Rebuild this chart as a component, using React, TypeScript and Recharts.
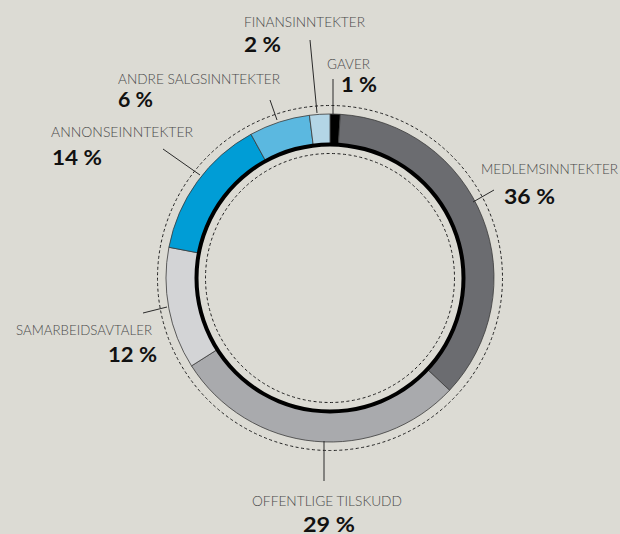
import React from 'react';
import { PieChart, Pie, Cell } from 'recharts';

const categories = [
  'GAVER',
  'MEDLEMSINNTEKTER',
  'OFFENTLIGE TILSKUDD',
  'SAMARBEIDSAVTALER',
  'ANNONSEINNTEKTER',
  'ANDRE SALGSINNTEKTER',
  'FINANSINNTEKTER',
];
const shares = [1, 36, 29, 12, 14, 6, 2];
const percentLabels = ['1 %', '36 %', '29 %', '12 %', '14 %', '6 %', '2 %'];
const colors = ['#000000', '#6b6c70', '#a9aaad', '#d3d4d6', '#009dd6', '#5bb8e0', '#b3d5e6'];

const data = categories.map((name, i) => ({ name, value: shares[i], pct: percentLabels[i] }));
const ringData = [{ name: 'ring', value: 1 }];

// label layout, offsets relative to the pie centre: leader [x1,y1,x2,y2], name [x, baseline, width], pct [x, baseline, width]
const leaderLines = [
  [3, -163, 3, -199],
  [143, -76, 164, -88],
  [-6, 163, -6, 203],
  [-163, 29, -187, 35],
  [-130, -103, -167, -129],
  [-53, -158, -60, -178],
  [-13, -165, -20, -238],
];
const namePos = [
  [-3, -209, 43],
  [151, -104, 137],
  [-78, 228, 150],
  [-314, 57, 136],
  [-279, 141 * -1, 142],
  [-212, -194, 162],
  [-86, -251, 121],
];
const pctPos = [
  [11, -186, 36],
  [174, -74, 51],
  [-27, 254, 52],
  [-222, 84, 49],
  [-278, -113, 50],
  [-212, -171, 35],
  [-86, -226, 37],
];

const BG = '#dcdbd4';

const renderLabel = (props: any) => {
  const cx = Number(props.cx);
  const cy = Number(props.cy);
  const i = props.index;
  const l = leaderLines[i];
  const n = namePos[i];
  const p = pctPos[i];
  return (
    <g key={`lbl-${i}`}>
      <line x1={cx + l[0]} y1={cy + l[1]} x2={cx + l[2]} y2={cy + l[3]} stroke="#2a2a2a" strokeWidth={1} />
      <text
        x={cx + n[0]}
        y={cy + n[1]}
        textLength={n[2]}
        lengthAdjust="spacingAndGlyphs"
        fontFamily="Lato, 'Open Sans', sans-serif"
        fontWeight={300}
        fontSize={14.5}
        fill="#4a4a4a"
      >
        {categories[i]}
      </text>
      <text
        x={cx + p[0]}
        y={cy + p[1]}
        textLength={p[2]}
        lengthAdjust="spacingAndGlyphs"
        fontFamily="Lato, 'Open Sans', sans-serif"
        fontWeight={700}
        fontSize={21}
        fill="#111111"
      >
        {percentLabels[i]}
      </text>
    </g>
  );
};

const renderCircles = (props: any) => {
  const cx = Number(props.cx);
  const cy = Number(props.cy);
  return (
    <g key="dashed-circles">
      <circle cx={cx} cy={cy} r={172.5} fill="none" stroke="#222" strokeWidth={1} strokeDasharray="3 2.5" />
      <circle cx={cx} cy={cy} r={124.5} fill="none" stroke="#222" strokeWidth={1} strokeDasharray="3 2.5" />
    </g>
  );
};

export default function App() {
  return (
    <div style={{ position: 'fixed', left: 0, top: 0, width: 620, height: 534, background: BG }}>
      <PieChart width={620} height={534} margin={{ top: 0, right: 0, bottom: 0, left: 0 }}>
        <Pie
          data={data}
          dataKey="value"
          nameKey="name"
          cx={330}
          cy={278}
          innerRadius={134}
          outerRadius={164}
          startAngle={90}
          endAngle={-270}
          stroke="#3a3a3a"
          strokeWidth={0.8}
          isAnimationActive={false}
          label={renderLabel}
          labelLine={false}
        >
          {data.map((d, i) => (
            <Cell key={d.name} fill={colors[i]} />
          ))}
        </Pie>
        <Pie
          data={ringData}
          dataKey="value"
          cx={330}
          cy={278}
          innerRadius={131.5}
          outerRadius={135.5}
          startAngle={90}
          endAngle={-270}
          fill="#000000"
          stroke="none"
          isAnimationActive={false}
          label={renderCircles}
          labelLine={false}
        />
      </PieChart>
    </div>
  );
}
